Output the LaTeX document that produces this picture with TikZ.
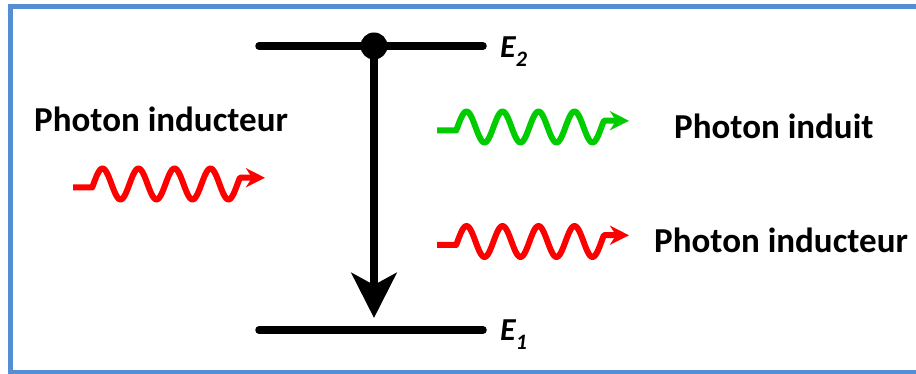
\documentclass[tikz,border=0pt]{standalone}
\usepackage{fontspec}
\setmainfont{Carlito}
\usetikzlibrary{arrows.meta}
\definecolor{frameblue}{RGB}{85,142,213}
\definecolor{wred}{RGB}{255,0,0}
\definecolor{wgreen}{RGB}{0,204,0}
\tikzset{
  photon/.pic={
    \draw[line width=6pt, line join=round, line cap=butt,
          -{Stealth[length=19pt,width=19pt,inset=6pt]}]
      (0,3.5) -- (19.2,3.5)
      -- plot[domain=19.2:166.9,samples=140,smooth] (\x,{-15.5*sin(10*(\x-20.5))})
      -- (192,-6.2);
  }
}
\begin{document}
\begin{tikzpicture}[x=1pt,y=-1pt,
  level/.style={line width=7.5pt, line cap=round},
  lbl/.style={font=\fontsize{35}{40}\selectfont\bfseries, inner sep=0pt, anchor=base west},
  elbl/.style={font=\fontsize{32}{36}\selectfont\bfseries\itshape, inner sep=0pt, anchor=base west}
]
\useasboundingbox (0,0) rectangle (916,374);
\clip (0,0) rectangle (916,374);
\fill[white] (0,0) rectangle (916,374);
% frame
\coordinate (f1) at (960,7);
\coordinate (f2) at (10,7);
\coordinate (f3) at (10,372.5);
\coordinate (f4) at (960,372.5);
\draw[frameblue, line width=5pt] (f1) -- (f2) -- (f3) -- (f4);
% levels
\coordinate (e2l) at (259,46);
\coordinate (e2r) at (483,46);
\coordinate (e1l) at (259,330);
\coordinate (e1r) at (483,330);
\draw[level] (e2l) -- (e2r);
\draw[level] (e1l) -- (e1r);
\node[circle, fill=black, inner sep=0pt, minimum size=27pt] (dot) at (374,46) {};
\coordinate (tip) at (374,318);
\draw[line width=8pt, -{Stealth[length=45pt,width=45pt,inset=12pt]}] (dot.center) -- (tip);
% labels
\node[elbl] (E2) at (500,58) {E\raisebox{-9pt}{\fontsize{22}{24}\selectfont 2}};
\node[elbl] (E1) at (500,340) {E\raisebox{-9pt}{\fontsize{22}{24}\selectfont 1}};
\node[lbl] (tin) at (34,132) {Photon inducteur};
\node[lbl] (tind) at (674,139) {Photon induit};
\node[lbl] (tout) at (654,253) {Photon inducteur};
% photons
\pic[color=wred] (pin) at (73,184) {photon};
\pic[color=wgreen] (pg) at (437,127) {photon};
\pic[color=wred] (pr) at (437,241.5) {photon};
\end{tikzpicture}
\end{document}
